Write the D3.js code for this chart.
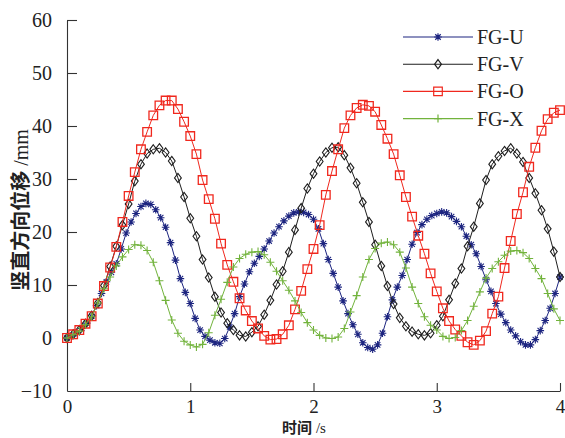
<!DOCTYPE html>
<html>
<head>
<meta charset="utf-8">
<script src="https://cdn.jsdelivr.net/npm/d3@7/dist/d3.min.js"></script>
<style>
  body { margin: 0; background: #fff; }
  svg { display: block; }
</style>
</head>
<body>
<svg id="canvas"></svg>
<script>
// time steps: FG-U sampled every 0.04 s, the others every 0.05 s
let stepU = 0.04;
let stepO = 0.05;

let valuesU = [0, 0.4, 1.0, 1.8, 2.8, 4.1, 6.1, 8.4, 10.6, 12.4, 14.0, 16.8, 19.8, 21.9, 23.5, 24.8, 25.4, 25.2, 24.2, 22.7,
  20.9, 18.0, 14.7, 11.2, 8.6, 6.5, 3.7, 1.5, 0.3, -0.4, -0.9, -1.0, -0.1, 2.1, 4.6, 7.8, 10.2, 12.5, 14.1, 15.4,
  16.8, 18.3, 19.8, 21.0, 22.1, 23.0, 23.6, 23.8, 23.7, 23.3, 22.4, 20.6, 17.8, 14.8, 12.2, 9.6, 7.0, 4.6, 2.5, 0.7,
  -0.9, -1.8, -2.1, -1.3, 0.9, 4.0, 7.2, 9.6, 11.8, 14.8, 17.7, 19.9, 21.4, 22.4, 23.1, 23.5, 23.8, 23.6, 22.9, 22.0,
  21.0, 19.2, 17.6, 15.9, 13.5, 11.0, 8.8, 6.5, 4.5, 2.9, 1.5, 0.4, -0.7, -1.3, -1.3, -0.3, 1.4, 3.3, 5.6, 8.4, 11.5];

let valuesV = [0, 0.7, 1.5, 2.7, 4.2, 6.6, 9.9, 13.5, 17.3, 21.3, 25.3, 29.6, 32.8, 34.8, 35.6, 35.8, 35.0, 33.4, 30.2, 26.6,
  22.6, 19.2, 14.8, 11.4, 7.8, 4.8, 2.8, 1.5, 0.5, 0.3, 1.1, 2.2, 4.4, 7.1, 10.1, 12.6, 16.2, 20.4, 24.5, 28.2,
  31.0, 33.3, 35.0, 35.9, 36.0, 34.5, 32.1, 29.2, 25.6, 21.9, 17.6, 13.6, 9.8, 6.4, 3.8, 2.2, 1.2, 0.7, 0.5, 0.9,
  2.4, 4.1, 7.2, 10.3, 13.1, 17.3, 21.0, 25.4, 29.8, 32.8, 34.3, 35.3, 35.8, 34.8, 33.2, 30.2, 27.3, 24.1, 20.6, 16.3, 11.5];

let valuesO = [0, 0.7, 1.5, 2.7, 4.1, 6.5, 9.8, 13.3, 17.2, 21.9, 26.8, 31.3, 35.6, 38.9, 42.0, 43.9, 44.8, 44.8, 43.2, 40.8,
  38.1, 34.7, 29.8, 26.2, 22.5, 17.8, 13.8, 10.6, 7.5, 5.2, 3.2, 1.8, 0.4, -0.3, -0.2, 0.7, 2.4, 5.4, 8.9, 13.0,
  16.8, 21.3, 27.0, 31.5, 35.6, 39.6, 42.0, 43.4, 44.0, 43.8, 42.7, 40.2, 37.6, 34.7, 30.7, 26.6, 22.9, 19.3, 15.9, 12.2,
  8.8, 5.6, 3.2, 1.6, 0.4, -0.8, -1.3, -0.5, 1.3, 4.6, 7.8, 13.2, 18.3, 23.4, 27.5, 32.3, 35.9, 39.1, 41.3, 42.5, 43.0];

let valuesX = [0, 0.6, 1.3, 2.5, 4.0, 6.6, 9.3, 11.5, 13.6, 15.3, 16.7, 17.6, 17.5, 16.5, 14.3, 10.8, 7.1, 3.4, 0.9, -0.6,
  -1.3, -1.7, -1.2, 1.0, 4.3, 7.3, 10.5, 13.4, 15.0, 15.8, 16.2, 16.3, 15.7, 14.3, 12.6, 10.8, 9.0, 7.0, 4.8, 2.9,
  1.5, 0.5, 0.0, -0.1, 0.2, 1.8, 4.9, 8.0, 11.5, 14.8, 16.9, 17.9, 18.1, 17.6, 16.2, 13.2, 9.6, 6.5, 4.0, 2.4,
  1.5, 0.3, -0.1, 0.1, 1.4, 3.3, 6.0, 8.7, 11.3, 13.1, 14.4, 15.6, 16.4, 16.5, 16.1, 15.0, 13.1, 11.2, 8.4, 5.5, 3.3];

let seriesNames = ['FG-U', 'FG-V', 'FG-O', 'FG-X'];
let xTicks = [0, 1, 2, 3, 4];
let yTicks = [-10, 0, 10, 20, 30, 40, 50, 60];

let width = 565;
let height = 438;

let svg = d3.select('#canvas')
svg.attr('width', width);
svg.attr('height', height);

let xScale = d3.scaleLinear().domain([0, 4]).range([67, 560]);
let yScale = d3.scaleLinear().domain([-10, 60]).range([391, 20]);

let toPoints = (vals, step) => vals.map((v, i) => ({t: +(i * step).toFixed(3), v: v}));

let series = [
  {name: 'FG-U', pts: toPoints(valuesU, stepU), color: '#1d2580', marker: 'star'},
  {name: 'FG-V', pts: toPoints(valuesV, stepO), color: '#1e1e1e', marker: 'diamond'},
  {name: 'FG-O', pts: toPoints(valuesO, stepO), color: '#f0281e', marker: 'square'},
  {name: 'FG-X', pts: toPoints(valuesX, stepO), color: '#72b33c', marker: 'plus'}
];

let markerPath = (type) => {
  if (type == 'star') {
    let r = 3.8, d = r * 0.72;
    return 'M' + (-r) + ',0H' + r + 'M0,' + (-r) + 'V' + r +
      'M' + (-d) + ',' + (-d) + 'L' + d + ',' + d + 'M' + (-d) + ',' + d + 'L' + d + ',' + (-d);
  } else if (type == 'diamond') {
    return 'M0,-4.6L3.4,0L0,4.6L-3.4,0Z';
  } else if (type == 'square') {
    return 'M-4.3,-4.3H4.3V4.3H-4.3Z';
  } else {
    return 'M-4,0H4M0,-4V4';
  }
}

let drawAxis = () => {
  let xAxis = d3.axisBottom(xScale).tickValues(xTicks).tickFormat(d3.format('d')).tickSizeInner(-8).tickSizeOuter(0).tickPadding(9)
  let yAxis = d3.axisLeft(yScale).tickValues(yTicks).tickSizeInner(-10).tickSizeOuter(0).tickPadding(15)
  let gx = svg.append('g').attr('id', 'x-axis').attr('transform', 'translate(0,' + yScale(-10) + ')').call(xAxis)
  let gy = svg.append('g').attr('id', 'y-axis').attr('transform', 'translate(' + xScale(0) + ',0)').call(yAxis)
  gx.select('.tick').select('line').remove()
  gy.select('.tick').select('line').remove()
  for (let g of [gx, gy]) {
    g.selectAll('path, line').attr('stroke', '#333').attr('stroke-width', 1.1)
    g.selectAll('text').attr('fill', '#222').style('font-family', '"Liberation Serif", "DejaVu Serif", serif').style('font-size', '20px')
  }
  gx.selectAll('text').style('font-size', '19px')
}

let drawSeries = () => {
  let line = d3.line().x(d => xScale(d.t)).y(d => yScale(d.v))
  for (let s of series) {
    let g = svg.append('g').attr('class', 'series')
    g.append('path').datum(s.pts).attr('d', line)
      .attr('fill', 'none').attr('stroke', s.color).attr('stroke-width', 1)
    g.selectAll('path.mk').data(s.pts).enter().append('path')
      .attr('class', 'mk')
      .attr('d', markerPath(s.marker))
      .attr('transform', d => 'translate(' + xScale(d.t) + ',' + yScale(d.v) + ')')
      .attr('fill', 'none')
      .attr('stroke', s.color)
      .attr('stroke-width', s.marker == 'square' ? 1.3 : 1.1)
  }
}

let drawLegend = () => {
  let lg = svg.append('g').attr('class', 'legend')
  series.forEach((s, i) => {
    let y = 37 + i * 27.2
    lg.append('line').attr('x1', 403).attr('x2', 473).attr('y1', y).attr('y2', y)
      .attr('stroke', s.color).attr('stroke-width', 1.1)
    lg.append('path').attr('d', markerPath(s.marker))
      .attr('transform', 'translate(438,' + y + ')')
      .attr('fill', 'none').attr('stroke', s.color).attr('stroke-width', 1.2)
    lg.append('text').attr('x', 477).attr('y', y + 7).text(seriesNames[i])
      .attr('fill', '#222').style('font-family', '"Liberation Serif", serif').style('font-size', '20px')
  })
}

let drawLabels = () => {
  svg.append('text').attr('x', 304).attr('y', 433).attr('text-anchor', 'middle')
    .attr('fill', '#222').style('font-size', '15px')
    .html('<tspan style="font-family:\'Noto Sans CJK SC\';font-weight:bold">时间</tspan><tspan style="font-family:\'Liberation Serif\'"> /s</tspan>')
  svg.append('text').attr('transform', 'translate(28,210) rotate(-90)').attr('text-anchor', 'middle')
    .attr('fill', '#222').style('font-size', '20px')
    .html('<tspan style="font-family:\'Noto Sans CJK SC\';font-weight:bold">竖直方向位移</tspan><tspan style="font-family:\'Liberation Serif\'"> /mm</tspan>')
}

drawAxis();
drawSeries();
drawLegend();
drawLabels();
</script>
</body>
</html>
